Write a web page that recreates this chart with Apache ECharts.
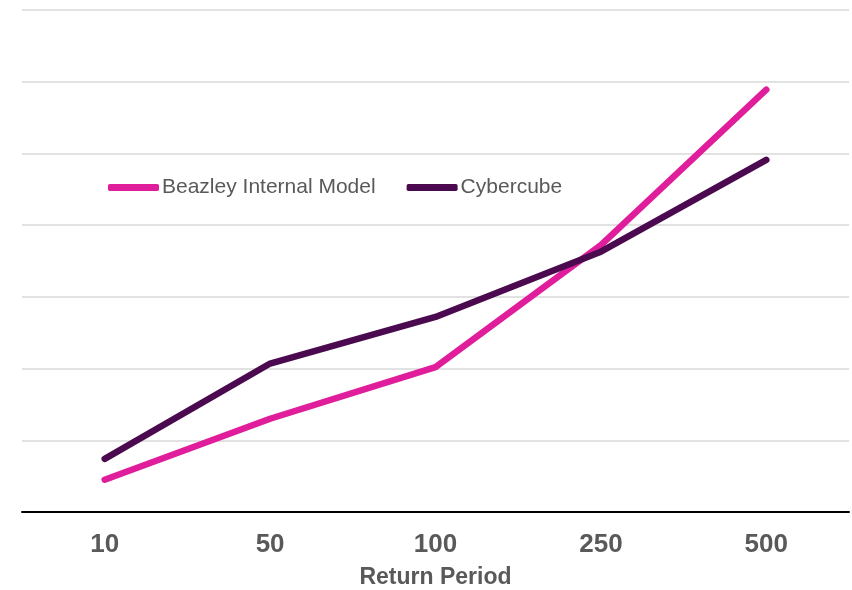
<!DOCTYPE html>
<html><head><meta charset="utf-8">
<script src="https://cdn.jsdelivr.net/npm/echarts@6/dist/echarts.min.js"></script>
<style>html,body{margin:0;padding:0;background:#fff}#c{width:852px;height:590px}</style>
</head><body><div id="c"></div>
<script>
const categories = ['10', '50', '100', '250', '500'];
const beazley = [0.45, 1.30, 2.02, 3.72, 5.89];
const cybercube = [0.74, 2.07, 2.72, 3.63, 4.91];

const chart = echarts.init(document.getElementById('c'));
chart.setOption({
  animation: false,
  grid: {left: 22, right: 3, top: 10, bottom: 78, outerBoundsMode: 'none', containLabel: false},
  legend: {
    left: 103, top: 172, itemWidth: 51, itemHeight: 7, itemGap: 31, icon: 'roundRect',
    textStyle: {fontFamily: 'Liberation Sans, Arial', fontSize: 21, color: '#595959', padding: [0,0,0,-2]},
    data: ['Beazley Internal Model', 'Cybercube']
  },
  xAxis: {
    type: 'category', data: categories,
    axisLine: {lineStyle: {color: '#000', width: 2}},
    axisTick: {show: false},
    axisLabel: {fontFamily: 'Liberation Sans, Arial', fontSize: 26, fontWeight: 'bold', color: '#595959', margin: 20},
    name: 'Return Period', nameLocation: 'middle', nameGap: 54,
    nameTextStyle: {fontFamily: 'Liberation Sans, Arial', fontSize: 23, fontWeight: 'bold', color: '#595959'}
  },
  yAxis: {
    type: 'value', min: 0, max: 7, interval: 1,
    axisLabel: {show: false}, axisLine: {show: false}, axisTick: {show: false},
    splitLine: {lineStyle: {color: '#d9d9d9', width: 1.5}}
  },
  series: [
    {name: 'Beazley Internal Model', type: 'line', data: beazley, symbol: 'none',
     lineStyle: {color: '#E01E9C', width: 6.5, cap: 'round'}, itemStyle: {color: '#E01E9C'}},
    {name: 'Cybercube', type: 'line', data: cybercube, symbol: 'none',
     lineStyle: {color: '#4B0A4F', width: 6.5, cap: 'round'}, itemStyle: {color: '#4B0A4F'}}
  ]
});
</script></body></html>
